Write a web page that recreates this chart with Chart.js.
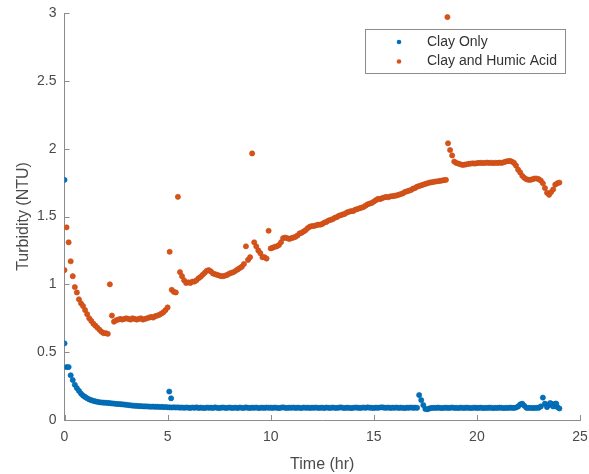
<!DOCTYPE html>
<html>
<head>
<meta charset="utf-8">
<script src="https://cdn.jsdelivr.net/npm/chart.js@4.4.1/dist/chart.umd.min.js"></script>
<style>
  html, body { margin: 0; padding: 0; background: #fff; }
</style>
</head>
<body>
<canvas id="turbidity" width="589" height="474"></canvas>
<script>
// sampling times (hr)
const hours = [
  0, 0.1, 0.2, 0.3, 0.4, 0.5, 0.6, 0.7, 0.8, 0.9,
  1, 1.1, 1.2, 1.3, 1.4, 1.5, 1.6, 1.7, 1.8, 1.9,
  2, 2.1, 2.2, 2.3, 2.4, 2.5, 2.6, 2.7, 2.8, 2.9,
  3, 3.1, 3.2, 3.3, 3.4, 3.5, 3.6, 3.7, 3.8, 3.9,
  4, 4.1, 4.2, 4.3, 4.4, 4.5, 4.6, 4.7, 4.8, 4.9,
  5, 5.1, 5.2, 5.3, 5.4, 5.5, 5.6, 5.7, 5.8, 5.9,
  6, 6.1, 6.2, 6.3, 6.4, 6.5, 6.6, 6.7, 6.8, 6.9,
  7, 7.1, 7.2, 7.3, 7.4, 7.5, 7.6, 7.7, 7.8, 7.9,
  8, 8.1, 8.2, 8.3, 8.4, 8.5, 8.6, 8.7, 8.8, 8.9,
  9, 9.1, 9.2, 9.3, 9.4, 9.5, 9.6, 9.7, 9.8, 9.9,
  10, 10.1, 10.2, 10.3, 10.4, 10.5, 10.6, 10.7, 10.8, 10.9,
  11, 11.1, 11.2, 11.3, 11.4, 11.5, 11.6, 11.7, 11.8, 11.9,
  12, 12.1, 12.2, 12.3, 12.4, 12.5, 12.6, 12.7, 12.8, 12.9,
  13, 13.1, 13.2, 13.3, 13.4, 13.5, 13.6, 13.7, 13.8, 13.9,
  14, 14.1, 14.2, 14.3, 14.4, 14.5, 14.6, 14.7, 14.8, 14.9,
  15, 15.1, 15.2, 15.3, 15.4, 15.5, 15.6, 15.7, 15.8, 15.9,
  16, 16.1, 16.2, 16.3, 16.4, 16.5, 16.6, 16.7, 16.8, 16.9,
  17, 17.1, 17.2, 17.3, 17.4, 17.5, 17.6, 17.7, 17.8, 17.9,
  18, 18.1, 18.2, 18.3, 18.4, 18.5, 18.6, 18.7, 18.8, 18.9,
  19, 19.1, 19.2, 19.3, 19.4, 19.5, 19.6, 19.7, 19.8, 19.9,
  20, 20.1, 20.2, 20.3, 20.4, 20.5, 20.6, 20.7, 20.8, 20.9,
  21, 21.1, 21.2, 21.3, 21.4, 21.5, 21.6, 21.7, 21.8, 21.9,
  22, 22.1, 22.2, 22.3, 22.4, 22.5, 22.6, 22.7, 22.8, 22.9,
  23, 23.1, 23.2, 23.3, 23.4, 23.5, 23.6, 23.7, 23.8, 23.9,
  24
];

// Clay Only (NTU)
const clayOnly = [
  0.565, 0.39, 0.39, 0.33, 0.295, 0.26, 0.235, 0.215, 0.195, 0.18,
  0.17, 0.16, 0.152, 0.146, 0.141, 0.137, 0.134, 0.131, 0.129, 0.128,
  0.127, 0.126, 0.124, 0.122, 0.121, 0.119, 0.118, 0.117, 0.115, 0.114,
  0.112, 0.11, 0.108, 0.106, 0.105, 0.104, 0.103, 0.102, 0.101, 0.1,
  0.1, 0.099, 0.098, 0.099, 0.097, 0.098, 0.096, 0.097, 0.095, 0.096,
  0.094, 0.093, 0.092, 0.094, 0.092, 0.093, 0.091, 0.092, 0.09, 0.092,
  0.091, 0.089, 0.092, 0.09, 0.093, 0.089, 0.091, 0.09, 0.088, 0.092,
  0.09, 0.091, 0.089, 0.093, 0.09, 0.088, 0.091, 0.092, 0.089, 0.09,
  0.092, 0.089, 0.09, 0.091, 0.088, 0.092, 0.09, 0.089, 0.093, 0.09,
  0.089, 0.091, 0.09, 0.092, 0.088, 0.09, 0.091, 0.089, 0.092, 0.09,
  0.091, 0.089, 0.092, 0.09, 0.088, 0.091, 0.093, 0.09, 0.089, 0.091,
  0.09, 0.092, 0.089, 0.091, 0.09, 0.088, 0.092, 0.09, 0.091, 0.089,
  0.091, 0.09, 0.092, 0.089, 0.09, 0.091, 0.088, 0.092, 0.09, 0.089,
  0.092, 0.09, 0.089, 0.091, 0.093, 0.09, 0.089, 0.091, 0.09, 0.088,
  0.09, 0.092, 0.091, 0.089, 0.09, 0.092, 0.09, 0.093, 0.091, 0.09,
  0.089, 0.091, 0.09, 0.092, 0.094, 0.091, 0.09, 0.092, 0.089, 0.091,
  0.09, 0.092, 0.089, 0.091, 0.09, 0.088, 0.091, 0.09, 0.092, 0.09,
  0.091, 0.09, 0.184, 0.147, 0.11, 0.082, 0.079, 0.085, 0.089, 0.09,
  0.089, 0.091, 0.09, 0.088, 0.09, 0.091, 0.089, 0.09, 0.092, 0.089,
  0.09, 0.088, 0.091, 0.09, 0.089, 0.091, 0.09, 0.088, 0.09, 0.091,
  0.089, 0.09, 0.091, 0.088, 0.09, 0.089, 0.091, 0.09, 0.088, 0.09,
  0.089, 0.091, 0.09, 0.088, 0.09, 0.089, 0.091, 0.09, 0.089, 0.092,
  0.1, 0.115, 0.12, 0.105, 0.09, 0.089, 0.09, 0.088, 0.089, 0.09,
  0.09, 0.1, 0.165, 0.12, 0.095, 0.11, 0.12, 0.1, 0.12, 0.095,
  0.085
];
const clayOnlyExtraHours = [0, 5.08, 5.17, 23.55, 23.85];
const clayOnlyExtra = [1.77, 0.21, 0.16, 0.125, 0.12];

// Clay and Humic Acid (NTU)
const clayHumic = [
  1.105, 1.42, 1.31, 1.17, 1.06, 0.98, 0.94, 0.89, 0.86, 0.84,
  0.81, 0.78, 0.75, 0.73, 0.71, 0.695, 0.68, 0.665, 0.65, 0.64,
  0.64, 0.635, 1.0, 0.77, 0.725, 0.735, 0.74, 0.745, 0.74, 0.745,
  0.75, 0.745, 0.74, 0.75, 0.745, 0.74, 0.745, 0.75, 0.74, 0.745,
  0.75, 0.755, 0.76, 0.755, 0.765, 0.77, 0.775, 0.785, 0.795, 0.81,
  0.83, 1.24, 0.96, 0.945, 0.94, 1.645, 1.09, 1.06, 1.03, 1.01,
  1.015, 1.01, 1.02, 1.02, 1.03, 1.045, 1.055, 1.07, 1.085, 1.1,
  1.105, 1.095, 1.08, 1.075, 1.07, 1.065, 1.06, 1.06, 1.065, 1.07,
  1.08, 1.085, 1.09, 1.1, 1.11, 1.12, 1.13, 1.15, 1.28, 1.18,
  1.2, 1.965, 1.31, 1.28, 1.25, 1.23, 1.2, 1.2, 1.19, 1.395,
  1.265, 1.27, 1.277, 1.28, 1.29, 1.31, 1.34, 1.345, 1.34, 1.335,
  1.34, 1.345, 1.35, 1.36, 1.375, 1.38, 1.39, 1.4, 1.415, 1.425,
  1.43, 1.43, 1.435, 1.44, 1.44, 1.445, 1.455, 1.46, 1.47, 1.475,
  1.48, 1.49, 1.495, 1.505, 1.51, 1.515, 1.52, 1.53, 1.535, 1.54,
  1.54, 1.55, 1.555, 1.56, 1.565, 1.57, 1.58, 1.59, 1.595, 1.6,
  1.61, 1.62, 1.63, 1.628, 1.635, 1.64, 1.645, 1.642, 1.648, 1.65,
  1.652, 1.655, 1.66, 1.665, 1.67, 1.68, 1.685, 1.69, 1.695, 1.705,
  1.71, 1.72, 1.725, 1.73, 1.735, 1.74, 1.745, 1.75, 1.752, 1.755,
  1.758, 1.76, 1.762, 1.765, 1.768, 1.77, 2.04, 1.99, 1.95, 1.905,
  1.895, 1.89, 1.885, 1.88, 1.882, 1.885, 1.888, 1.89, 1.892, 1.89,
  1.893, 1.895, 1.896, 1.894, 1.896, 1.897, 1.895, 1.896, 1.894, 1.896,
  1.895, 1.897, 1.895, 1.9, 1.905, 1.908, 1.91, 1.905, 1.895, 1.875,
  1.845, 1.825, 1.8, 1.785, 1.775, 1.77, 1.77, 1.775, 1.78, 1.78,
  1.775, 1.765, 1.745, 1.71, 1.675, 1.66, 1.68, 1.7, 1.735, 1.745,
  1.75
];
const clayHumicExtraHours = [18.57];
const clayHumicExtra = [2.97];

const xTicks = [0, 5, 10, 15, 20, 25];
const xTickLabels = ['0', '5', '10', '15', '20', '25'];
const yTicks = [0, 0.5, 1, 1.5, 2, 2.5, 3];
const yTickLabels = ['0', '0.5', '1', '1.5', '2', '2.5', '3'];

function toPoints(xs, ys, exXs, exYs) {
  const pts = [];
  xs.forEach((x, i) => { if (ys[i] !== null) pts.push({ x: x, y: ys[i] }); });
  exXs.forEach((x, i) => pts.push({ x: x, y: exYs[i] }));
  return pts;
}

const axisGray = '#8c8c8c';
const textGray = '#4a4a4a';
const fontFamily = '"Liberation Sans", Arial, sans-serif';

// MATLAB style ticks pointing into the plot
const inwardTicks = {
  id: 'inwardTicks',
  afterDraw(chart) {
    const { ctx, chartArea: a, scales: { x, y } } = chart;
    ctx.save();
    ctx.strokeStyle = axisGray;
    ctx.lineWidth = 1;
    ctx.beginPath();
    x.ticks.forEach(t => {
      const px = Math.round(x.getPixelForValue(t.value)) + 0.5;
      ctx.moveTo(px, a.bottom);
      ctx.lineTo(px, a.bottom - 5);
    });
    y.ticks.forEach(t => {
      const py = Math.round(y.getPixelForValue(t.value)) + 0.5;
      ctx.moveTo(a.left, py);
      ctx.lineTo(a.left + 5, py);
    });
    ctx.stroke();
    ctx.restore();
  }
};

// boxed legend in upper right
const boxLegend = {
  id: 'boxLegend',
  afterDraw(chart) {
    const ctx = chart.ctx;
    const bx = 365.5, by = 29.5, bw = 200, bh = 44;
    ctx.save();
    ctx.fillStyle = '#fff';
    ctx.fillRect(bx, by, bw, bh);
    ctx.strokeStyle = axisGray;
    ctx.lineWidth = 1;
    ctx.strokeRect(bx, by, bw, bh);
    ctx.font = '14px ' + fontFamily;
    ctx.textBaseline = 'middle';
    chart.data.datasets.forEach((ds, i) => {
      const cy = 42 + i * 19.5;
      ctx.fillStyle = ds.backgroundColor;
      ctx.beginPath();
      ctx.arc(399, cy, 2.3, 0, Math.PI * 2);
      ctx.fill();
      ctx.fillStyle = '#333';
      ctx.fillText(ds.label, 427, cy);
    });
    ctx.restore();
  }
};

new Chart(document.getElementById('turbidity'), {
  type: 'scatter',
  data: {
    datasets: [
      {
        label: 'Clay Only',
        data: toPoints(hours, clayOnly, clayOnlyExtraHours, clayOnlyExtra),
        backgroundColor: '#0072BD',
        borderColor: '#0062a6',
        borderWidth: 0.6,
        pointRadius: 2.6
      },
      {
        label: 'Clay and Humic Acid',
        data: toPoints(hours, clayHumic, clayHumicExtraHours, clayHumicExtra),
        backgroundColor: '#D95319',
        borderColor: '#c24a16',
        borderWidth: 0.6,
        pointRadius: 2.6
      }
    ]
  },
  options: {
    responsive: false,
    animation: false,
    layout: { padding: { left: 0, right: 9, top: 13, bottom: 0 } },
    plugins: { legend: { display: false }, tooltip: { enabled: false } },
    scales: {
      x: {
        type: 'linear',
        min: 0,
        max: 25,
        afterBuildTicks: s => { s.ticks = xTicks.map(v => ({ value: v })); },
        afterFit: s => { s.height = 54; s.paddingLeft = 0; s.paddingRight = 0; },
        grid: { display: false, drawTicks: false },
        border: { color: axisGray },
        ticks: { color: textGray, font: { family: fontFamily, size: 14 }, padding: 9, maxRotation: 0,
                 callback: (v, i) => xTickLabels[i] },
        title: { display: true, text: 'Time (hr)', color: textGray, font: { family: fontFamily, size: 16 }, padding: { top: 4, bottom: 0 } }
      },
      y: {
        type: 'linear',
        min: 0,
        max: 3,
        afterBuildTicks: s => { s.ticks = yTicks.map(v => ({ value: v })); },
        afterFit: s => { s.width = 64.5; s.paddingTop = 0; s.paddingBottom = 0; },
        grid: { display: false, drawTicks: false },
        border: { color: axisGray },
        ticks: { color: textGray, font: { family: fontFamily, size: 14 }, padding: 8,
                 callback: (v, i) => yTickLabels[i] },
        title: { display: true, text: 'Turbidity (NTU)', color: textGray, font: { family: fontFamily, size: 16 }, padding: { top: 14, bottom: 0 } }
      }
    }
  },
  plugins: [inwardTicks, boxLegend]
});
</script>
</body>
</html>
